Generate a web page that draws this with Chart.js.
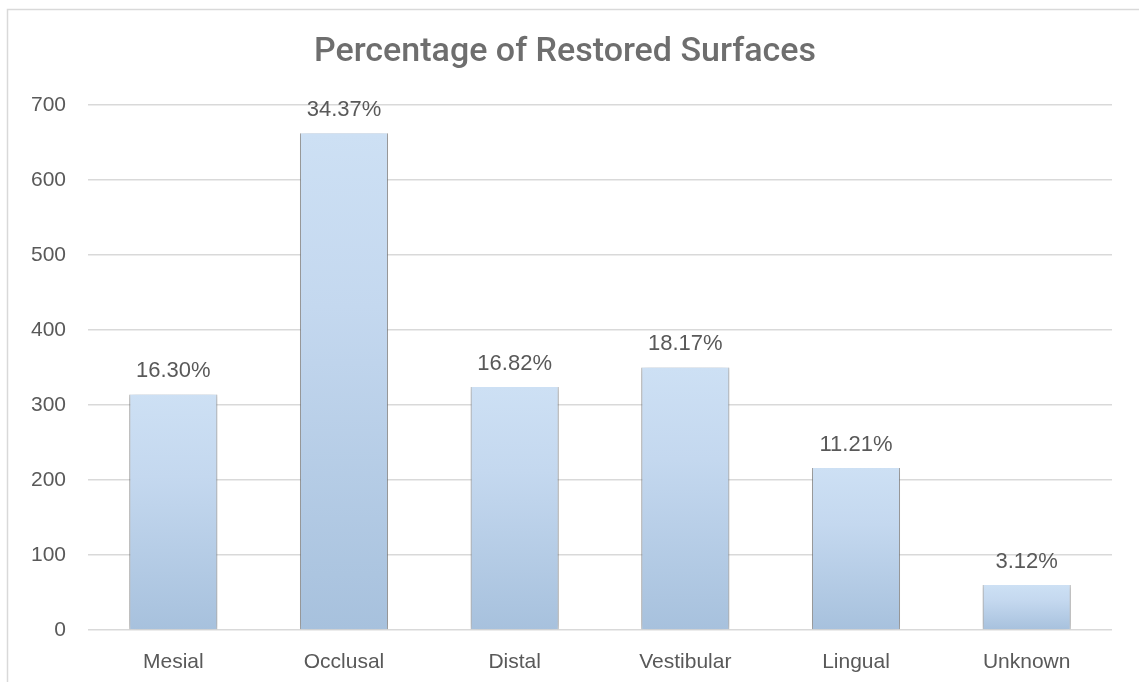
<!DOCTYPE html>
<html>
<head>
<meta charset="utf-8">
<title>Percentage of Restored Surfaces</title>
<script src="https://cdn.jsdelivr.net/npm/chart.js@4.4.0/dist/chart.umd.min.js"></script>
<style>
  html, body { margin: 0; padding: 0; background: #ffffff; overflow: hidden; }
  #wrap { width: 1139px; height: 682px; position: relative; }
</style>
</head>
<body>
<div id="wrap"><canvas id="chart" width="1139" height="682"></canvas></div>
<script>
// Restored surfaces by tooth surface (counts)
const categories = ['Mesial', 'Occlusal', 'Distal', 'Vestibular', 'Lingual', 'Unknown'];
const restoredCounts = [314, 662, 324, 350, 216, 60];
const yTickValues = [0, 100, 200, 300, 400, 500, 600, 700];
const chartTitle = 'Percentage of Restored Surfaces';

const totalCount = restoredCounts.reduce((a, b) => a + b, 0);
const percentLabels = restoredCounts.map(v => (v / totalCount * 100).toFixed(2) + '%');

const FONT = "'Liberation Sans', Arial, sans-serif";
const TITLE_FONT = "Roboto, 'Liberation Sans', Arial, sans-serif";
const TEXT = '#595959';
const GRID = '#d9d9d9';

// Outer frame around the chart
const framePlugin = {
  id: 'frame',
  beforeDraw(chart) {
    const ctx = chart.ctx;
    ctx.save();
    ctx.fillStyle = '#ffffff';
    ctx.fillRect(0, 0, chart.width, chart.height);
    ctx.strokeStyle = GRID;
    ctx.lineWidth = 1.5;
    ctx.strokeRect(7.5, 9.5, chart.width + 20, chart.height + 20);
    ctx.restore();
  }
};

// Soft shadow behind the bars
const barShadowPlugin = {
  id: 'barShadow',
  beforeDatasetsDraw(chart) {
    const ctx = chart.ctx;
    ctx.save();
    ctx.shadowColor = 'rgba(0,0,0,0.32)';
    ctx.shadowBlur = 7;
    ctx.shadowOffsetX = 0;
    ctx.shadowOffsetY = 0;
  },
  afterDatasetsDraw(chart) {
    chart.ctx.restore();
  }
};

// Percentage labels above each bar
const valueLabelPlugin = {
  id: 'valueLabels',
  afterDatasetsDraw(chart) {
    const ctx = chart.ctx;
    const meta = chart.getDatasetMeta(0);
    ctx.save();
    ctx.font = '22px ' + FONT;
    ctx.fillStyle = TEXT;
    ctx.textAlign = 'center';
    ctx.textBaseline = 'middle';
    meta.data.forEach((bar, i) => {
      ctx.fillText(percentLabels[i], bar.x, bar.y - 23);
    });
    ctx.restore();
  }
};

function barGradient(context) {
  const chart = context.chart;
  if (!chart.chartArea || context.type !== 'data') return '#bcd3ec';
  const y = chart.scales.y;
  const top = y.getPixelForValue(context.raw);
  const bottom = y.getPixelForValue(0);
  const g = chart.ctx.createLinearGradient(0, top, 0, bottom);
  g.addColorStop(0, '#cde0f4');
  g.addColorStop(0.35, '#c4d8ef');
  g.addColorStop(1, '#a7c1dd');
  return g;
}

new Chart(document.getElementById('chart'), {
  type: 'bar',
  data: {
    labels: categories,
    datasets: [{
      data: restoredCounts,
      backgroundColor: barGradient,
      borderColor: 'rgba(140,140,140,0.75)',
      borderWidth: { left: 1, right: 1, top: 0, bottom: 0 },
      borderSkipped: false,
      categoryPercentage: 1,
      barPercentage: 0.516
    }]
  },
  options: {
    responsive: false,
    animation: false,
    layout: { padding: { left: 18, right: 27, top: 0, bottom: 0 } },
    plugins: {
      legend: { display: false },
      tooltip: { enabled: false },
      title: {
        display: true,
        text: chartTitle,
        color: '#6e6e6e',
        font: { family: TITLE_FONT, size: 34, weight: '500' },
        padding: { top: 32, bottom: 32 }
      }
    },
    scales: {
      x: {
        grid: { display: false, drawTicks: false },
        border: { display: false },
        ticks: { color: TEXT, font: { family: FONT, size: 21 }, padding: 20 },
        afterFit(scale) { scale.height = 52; }
      },
      y: {
        min: 0,
        max: 700,
        afterBuildTicks(scale) { scale.ticks = yTickValues.map(v => ({ value: v })); },
        grid: { color: GRID, lineWidth: 1.5, drawTicks: false },
        border: { display: false },
        ticks: { color: TEXT, font: { family: FONT, size: 21 }, padding: 22 },
        afterFit(scale) { scale.width = 70; }
      }
    }
  },
  plugins: [framePlugin, barShadowPlugin, valueLabelPlugin]
});
</script>
</body>
</html>
